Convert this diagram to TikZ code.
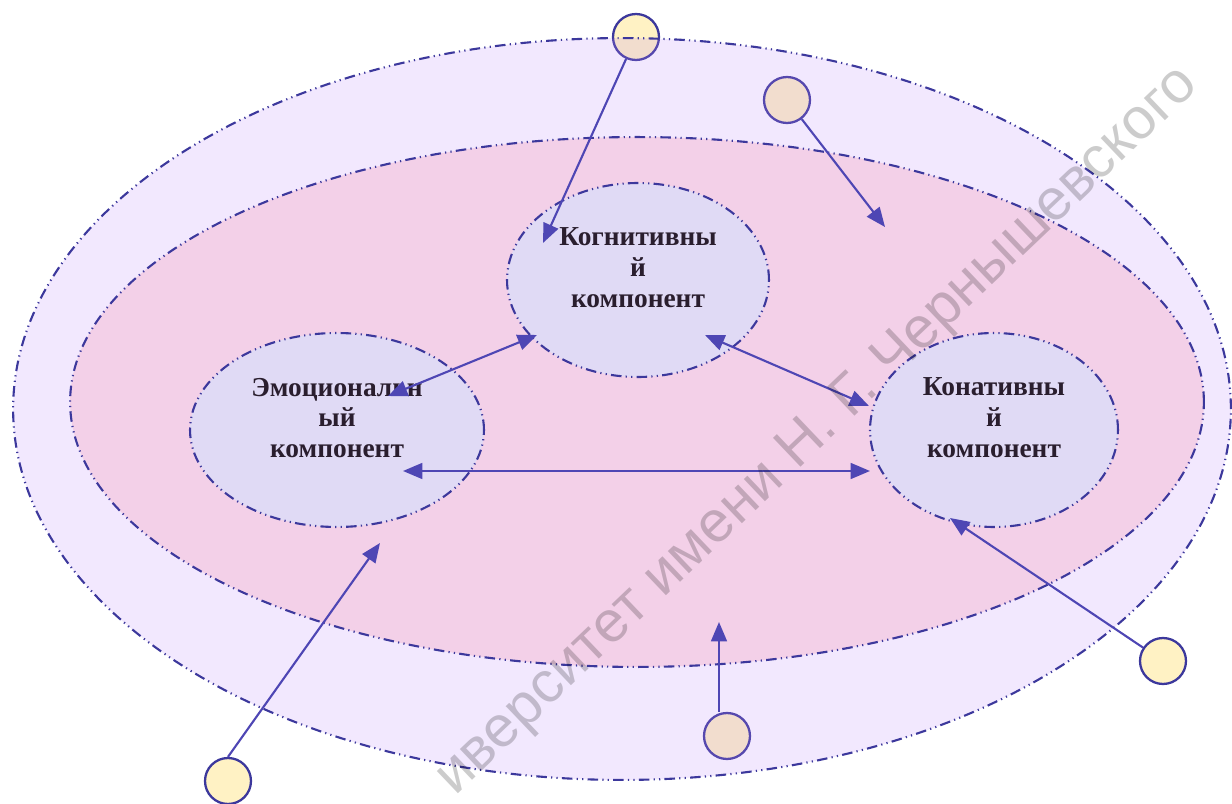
\documentclass[tikz,border=0pt]{standalone}
\usepackage{fontspec}
\setmainfont{Liberation Serif}
\newfontfamily\wmfont{Liberation Sans}
\usetikzlibrary{shapes.geometric,arrows.meta}
\definecolor{lineblue}{RGB}{78,70,180}
\definecolor{rimblue}{RGB}{60,56,156}
\definecolor{outerfill}{RGB}{190,140,250}
\definecolor{innerfill}{RGB}{243,208,232}
\definecolor{compfill}{RGB}{224,218,245}
\definecolor{dotfill}{RGB}{255,242,196}
\definecolor{txtdark}{RGB}{42,30,46}
\tikzset{
  dashdotdot/.style={draw=rimblue, line width=1.2pt, dash pattern=on 6pt off 2.4pt on 0.7pt off 2.4pt on 0.7pt off 2.4pt},
  ring/.style={ellipse, inner sep=0pt, dashdotdot},
  marker/.style={circle, draw=rimblue, line width=1.3pt, fill=dotfill, minimum size=0.92cm, inner sep=0pt},
  comptext/.style={align=center, text=txtdark, font=\bfseries\fontsize{15.6}{17.6}\selectfont},
  link/.style={draw=lineblue, line width=1.2pt, -{Triangle[length=11pt,width=9pt]}},
  biglink/.style={draw=lineblue, line width=1.2pt, {Triangle[length=11pt,width=9pt]}-{Triangle[length=11pt,width=9pt]}}
}
\begin{document}
\begin{tikzpicture}[x=0.02cm,y=-0.02cm]
\useasboundingbox (0,0) rectangle (1232,804);
\node[marker] (mTop) at (636,37) {};
\node[marker] (mUpper) at (787,100) {};
\node[marker] (mLeft) at (228,781) {};
\node[marker] (mBottom) at (727,736) {};
\node[marker] (mRight) at (1163,661) {};
\node[ring, fill=outerfill, fill opacity=0.2, minimum width=24.36cm, minimum height=14.84cm] (outer) at (622,409) {};
\node[ring, fill=innerfill, minimum width=22.68cm, minimum height=10.6cm] (inner) at (637,402) {};
\node[ring, fill=compfill, minimum width=5.24cm, minimum height=3.88cm] (cogn) at (638,280) {};
\node[ring, fill=compfill, minimum width=5.88cm, minimum height=3.88cm] (emot) at (337,430) {};
\node[ring, fill=compfill, minimum width=4.96cm, minimum height=3.88cm] (conat) at (994,430) {};
\node[comptext] (cognText) at (638,268) {Когнитивны\\й\\компонент};
\node[comptext] (emotText) at (337,418) {Эмоциональн\\ый\\компонент};
\node[comptext] (conatText) at (994,418) {Конативны\\й\\компонент};
\coordinate (tTop) at (543,243);
\coordinate (tUpper) at (885,227);
\coordinate (tLeft) at (380,543);
\coordinate (tBottom) at (719,622);
\coordinate (tRight) at (950,518);
\coordinate (emotUp) at (388,396);
\coordinate (cognLeft) at (537,335);
\coordinate (cognRight) at (705,335);
\coordinate (conatUp) at (869,406);
\coordinate (emotSide) at (403,471);
\coordinate (conatSide) at (870,471);
\draw[link] (mTop) -- (tTop);
\draw[link] (mUpper) -- (tUpper);
\draw[link] (mLeft.north) -- (tLeft);
\draw[link] (tBottom |- mBottom.north) -- (tBottom);
\draw[link] (mRight) -- (tRight);
\draw[biglink] (emotUp) -- (cognLeft);
\draw[biglink] (cognRight) -- (conatUp);
\draw[biglink] (emotSide) -- (conatSide);
\node[font=\wmfont\fontsize{33}{33}\selectfont, text=black, text opacity=0.2, rotate=43.6] (mark) at (818,432) {иверситет имени Н. Г. Чернышевского};
\end{tikzpicture}
\end{document}
